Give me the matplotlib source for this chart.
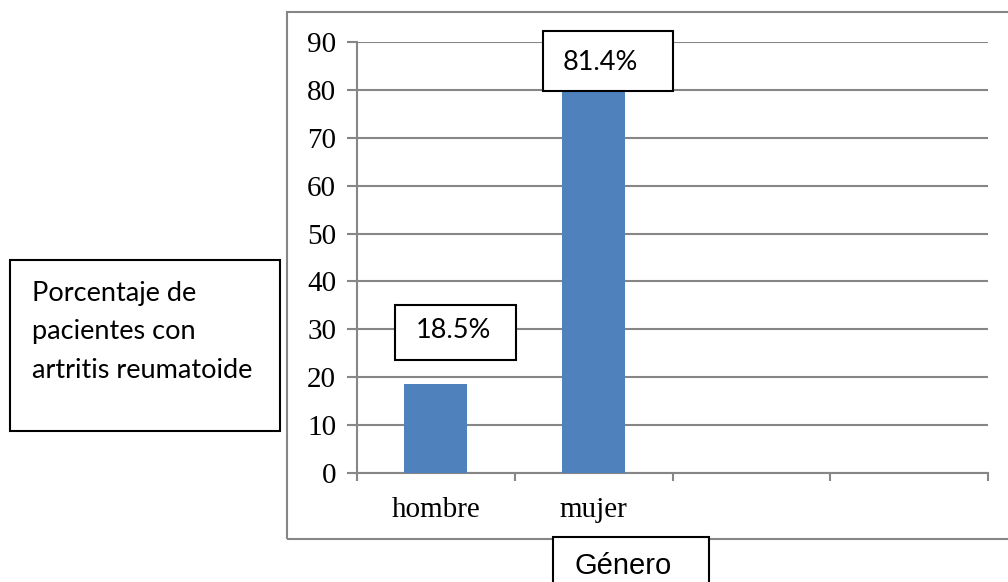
import matplotlib
matplotlib.use('Agg')
import matplotlib.pyplot as plt
from matplotlib.patches import Rectangle

categories = ['hombre', 'mujer', '', '']
values = [18.5, 81.4]
value_labels = ['18.5%', '81.4%']
yticks = list(range(0, 100, 10))
ylabel_text = 'Porcentaje de\npacientes con\nartritis reumatoide'
xlabel_text = 'Género'

W, H = 1008, 582
bar_color = '#4F81BD'
grid_color = '#868686'


def px(x, y):
    # pixel position (from top-left) to figure fraction
    return x / W, 1 - y / H


fig = plt.figure(figsize=(W / 100, H / 100), dpi=100)
ax = fig.add_axes([357 / W, 1 - 473 / H, (988 - 357) / W, (473 - 42) / H])

positions = list(range(len(categories)))
ax.bar(positions[:len(values)], values, width=0.4, color=bar_color, zorder=3)
ax.set_xlim(-0.5, len(categories) - 0.5)
ax.set_ylim(0, 90)

ax.set_yticks(yticks)
ax.set_yticklabels([str(t) for t in yticks], family='Liberation Serif', fontsize=21)
ax.yaxis.grid(True, color=grid_color, linewidth=1.5, zorder=0)

ax.set_xticks([p - 0.5 for p in positions] + [len(categories) - 0.5])
ax.set_xticklabels([])
ax.set_xticks(positions[:2], minor=True)
ax.set_xticklabels(categories[:2], minor=True, family='Liberation Serif', fontsize=21)
ax.tick_params(axis='x', which='minor', length=0, pad=17)
ax.tick_params(axis='x', which='major', length=6, width=1.5, color=grid_color)
ax.tick_params(axis='y', length=7, width=1.5, color=grid_color, pad=8)

for s in ['top', 'right']:
    ax.spines[s].set_visible(False)
for s in ['left', 'bottom']:
    ax.spines[s].set_color(grid_color)
    ax.spines[s].set_linewidth(1.5)
ax.set_axisbelow(True)

# outer chart frame, running off the right edge
x0, y0 = px(287, 539)
x1, y1 = px(1015, 12)
fig.patches.append(Rectangle((x0, y0), x1 - x0, y1 - y0, transform=fig.transFigure,
                             fill=False, edgecolor=grid_color, linewidth=1.5, zorder=0))


def text_box(left, top, right, bottom, text, tx=None, ty=None, ha='center', **kw):
    bx0, by0 = px(left, bottom)
    bx1, by1 = px(right, top)
    fig.patches.append(Rectangle((bx0, by0), bx1 - bx0, by1 - by0, transform=fig.transFigure,
                                 facecolor='white', edgecolor='black', linewidth=1.5, zorder=5))
    cx = (left + right) / 2 if tx is None else tx
    cy = (top + bottom) / 2 if ty is None else ty
    fx, fy = px(cx, cy)
    fig.text(fx, fy, text, ha=ha, va='center', zorder=6, **kw)


# value boxes
text_box(395, 305, 516, 360, value_labels[0], tx=453, ty=330, family='Lato', fontsize=19.5)
text_box(543, 31, 673, 91, value_labels[1], tx=600, ty=62, family='Lato', fontsize=19.5)

# y label box
text_box(10, 260, 280, 431, ylabel_text, tx=32, ty=332, ha='left',
         family='Lato', fontsize=19.5, linespacing=1.68)

# x label box
text_box(553, 537, 709, 600, xlabel_text, tx=623, ty=566, family='Liberation Sans', fontsize=21)

fig.savefig('out.png', dpi=100)
